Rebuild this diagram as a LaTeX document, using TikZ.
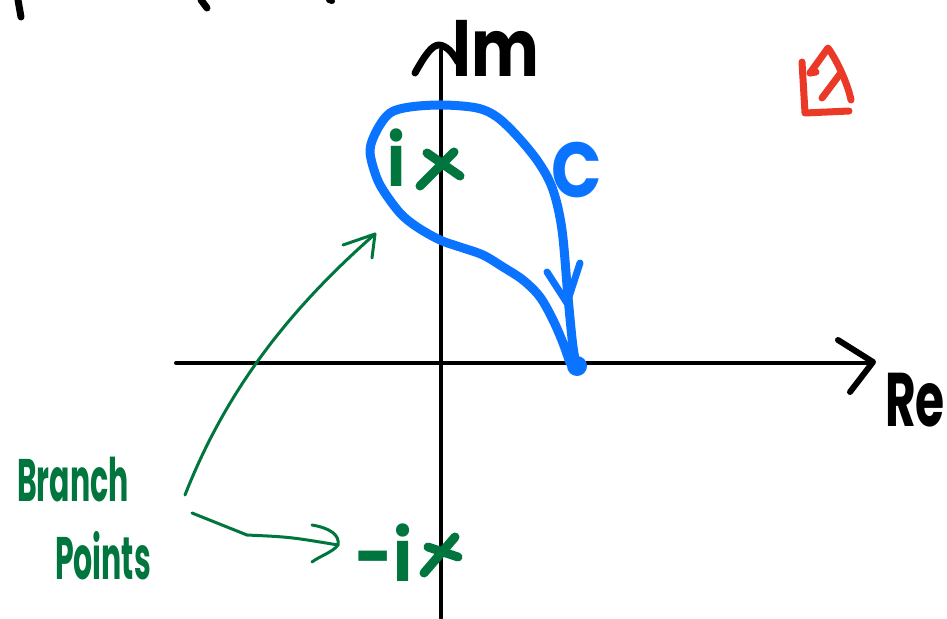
\documentclass[tikz,border=0pt]{standalone}
\usepackage{fontspec}
\newfontfamily\hand{Poppins}
\definecolor{pgreen}{RGB}{0,118,62}
\definecolor{pblue}{RGB}{10,115,255}
\definecolor{pred}{RGB}{235,57,40}
\begin{document}
\begin{tikzpicture}[x=1pt,y=-1pt, line cap=round, line join=round,
  axis/.style={line width=4pt,black},
  bink/.style={line width=9pt,pblue},
  gline/.style={line width=3pt,pgreen},
  gmark/.style={line width=9pt,pgreen},
  rink/.style={line width=7pt,pred},
  lbl/.style={inner sep=0pt,font=\hand}]
\useasboundingbox (0,0) rectangle (947,618);
% cut-off marks at top
\draw[line width=7pt] (18,0) -- (21,17);
\draw[line width=7pt] (201,0) -- (207,8);
\draw[line width=6pt] (329,0) -- (332,1);
% axes
\coordinate (reL) at (176,363);
\coordinate (reR) at (868,363);
\coordinate (imB) at (441,618);
\coordinate (imT) at (441,50);
\draw[axis] (reL) -- (reR);
\draw[axis, line width=6pt] (838,340) -- (873,362) -- (850,392);
\draw[axis] (imB) -- (imT);
\draw[line width=7pt] (415,73) .. controls (425,55) and (432,45) .. (439,45) .. controls (447,46) and (452,52) .. (458,62);
\node[lbl, font=\hand\fontsize{80}{80}\selectfont\bfseries, xscale=0.8] (im) at (496,48) {Im};
\node[lbl, font=\hand\fontsize{76}{76}\selectfont\bfseries, xscale=0.62] (re) at (915,400) {Re};
% contour C
\draw[bink] plot[smooth, tension=0.55] coordinates {
 (577,367) (573,347) (568,297) (562,230) (553,190) (539,163) (518,137)
 (497,117) (477,108) (443,105) (410,107) (390,113) (377,130) (370,150)
 (375,173) (383,190) (400,213) (417,227) (440,240) (460,247) (483,255)
 (503,267) (523,280) (540,297) (553,320) (563,343) (570,363)};
\fill[pblue] (577,366) circle (10) coordinate (dot);
\draw[bink, line width=7pt] (547,272) -- (567,303) -- (580,263);
\node[lbl, text=pblue, font=\hand\fontsize{78}{78}\selectfont\bfseries, xscale=0.85] (C) at (577,170) {C};
% branch points
\node[lbl, text=pgreen, font=\hand\fontsize{72}{72}\selectfont\bfseries, xscale=0.85] (ip) at (397,158) {i};
\draw[gmark] (420,186) -- (454,152);
\draw[gmark] (427,153) -- (460,176);
\node[lbl, text=pgreen, font=\hand\fontsize{72}{72}\selectfont\bfseries, xscale=0.9] (im2) at (384,553) {-i};
\draw[gmark] (424,573) -- (455,537);
\draw[gmark] (428,547) -- (458,557);
% label
\node[lbl, text=pgreen, font=\hand\fontsize{60}{60}\selectfont\bfseries, xscale=0.5] (br) at (73,480) {Branch};
\node[lbl, text=pgreen, font=\hand\fontsize{60}{60}\selectfont\bfseries, xscale=0.5] (pt) at (103,556) {Points};
% arrows
\coordinate (a1s) at (185,495);
\coordinate (a1e) at (375,234);
\draw[gline] (a1s) .. controls (230,380) and (300,300) .. (a1e);
\draw[gline] (343,245) -- (a1e) -- (372,258);
\coordinate (a2s) at (192,513);
\coordinate (a2e) at (338,545);
\draw[gline] (a2s) -- (247,535) .. controls (290,537) .. (a2e);
\draw[gline] (312,525) .. controls (330,528) and (340,535) .. (a2e) .. controls (333,552) and (320,556) .. (312,562);
% red symbol
\draw[rink] (802,62) -- (805,113) -- (849,111);
\draw[rink] (810,73) -- (828,48) .. controls (838,62) and (848,85) .. (851,100);
\draw[rink] (822,98) -- (840,74);
\draw[rink] (810,73) -- (816,72);
\end{tikzpicture}
\end{document}
